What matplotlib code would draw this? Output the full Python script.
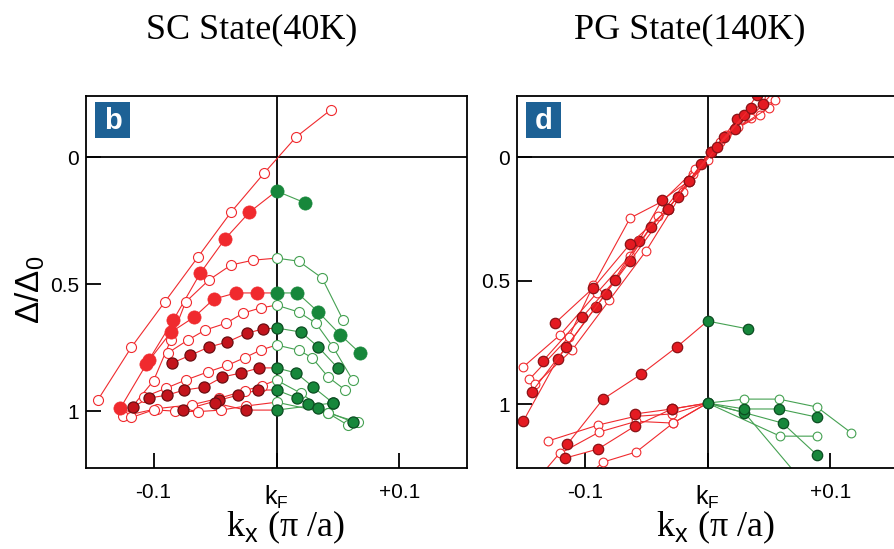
import numpy as np
import matplotlib
matplotlib.use('Agg')
import matplotlib.pyplot as plt
from matplotlib.patches import Rectangle

plt.rcParams['font.family'] = ['Liberation Sans', 'DejaVu Sans']
plt.rcParams['mathtext.fontset'] = 'custom'
plt.rcParams['mathtext.rm'] = 'Liberation Sans'

# ---- SC state (40K), panel b : k_x offset from kF, gap ratio ----
sc_a_x = [-0.1455, -0.118, -0.091, -0.064, -0.037, -0.010, 0.016, 0.044]
sc_a_y = [0.957, 0.748, 0.571, 0.394, 0.217, 0.063, -0.079, -0.185]
sc_b_x = [-0.127, -0.104, -0.084, -0.062, -0.042, -0.022, 0.0, 0.023]
sc_b_y = [0.988, 0.800, 0.642, 0.457, 0.323, 0.217, 0.134, 0.180]
sc_c_x = [-0.123, -0.100, -0.086, -0.074, -0.055, -0.037, -0.019, 0.0, 0.018, 0.037, 0.054]
sc_c_y = [1.016, 0.880, 0.720, 0.571, 0.484, 0.425, 0.406, 0.398, 0.410, 0.476, 0.640]
sc_d_x = [-0.106, -0.086, -0.067, -0.051, -0.033, -0.016, 0.0, 0.017, 0.034, 0.052, 0.068]
sc_d_y = [0.815, 0.690, 0.630, 0.559, 0.535, 0.535, 0.535, 0.535, 0.610, 0.700, 0.772]
sc_e_x = [-0.088, -0.072, -0.058, -0.041, -0.027, -0.013, 0.0, 0.018, 0.032, 0.046, 0.062]
sc_e_y = [0.770, 0.720, 0.681, 0.654, 0.614, 0.594, 0.583, 0.610, 0.654, 0.748, 0.878]
sc_f_x = [-0.085, -0.070, -0.055, -0.040, -0.024, -0.011, 0.0, 0.020, 0.034, 0.050]
sc_f_y = [0.811, 0.780, 0.748, 0.728, 0.693, 0.677, 0.673, 0.689, 0.748, 0.831]
sc_g_x = [-0.108, -0.090, -0.074, -0.056, -0.040, -0.026, -0.013, 0.0, 0.018, 0.029, 0.042, 0.056]
sc_g_y = [0.945, 0.910, 0.878, 0.846, 0.820, 0.790, 0.760, 0.740, 0.760, 0.790, 0.866, 0.917]
sc_h_x = [-0.117, -0.104, -0.089, -0.075, -0.059, -0.044, -0.029, -0.014, 0.0, 0.016, 0.030, 0.046]
sc_h_y = [0.984, 0.949, 0.937, 0.917, 0.906, 0.866, 0.850, 0.830, 0.830, 0.850, 0.906, 0.968]
sc_i_x = [-0.125, -0.097, -0.069, -0.047, -0.026, -0.012, 0.0, 0.020, 0.042, 0.058]
sc_i_y = [1.020, 0.990, 0.975, 0.950, 0.920, 0.900, 0.878, 0.930, 1.008, 1.055]
sc_j_x = [-0.076, -0.047, -0.031, -0.015, 0.0, 0.017, 0.026, 0.034, 0.062]
sc_j_y = [0.996, 0.957, 0.937, 0.917, 0.917, 0.949, 0.972, 0.988, 1.043]
sc_k_x = [-0.050, -0.025, 0.0, 0.046]
sc_k_y = [0.968, 0.996, 0.996, 0.968]
sc_l_x = [-0.118, -0.100, -0.083, -0.064, -0.045, -0.025, 0.0, 0.042, 0.066]
sc_l_y = [1.025, 0.995, 1.000, 1.002, 0.996, 0.980, 0.965, 1.008, 1.043]

# ---- PG state (140K), panel d ----
pg_1_x = [-0.150, -0.122, -0.091, -0.063, -0.032, -0.005, 0.013, 0.024, 0.045, 0.060]
pg_1_y = [1.070, 0.818, 0.607, 0.421, 0.210, 0.028, -0.081, -0.154, -0.215, -0.300]
pg_2_x = [-0.143, -0.115, -0.083, -0.056, -0.037, -0.015, 0.003, 0.022, 0.040]
pg_2_y = [0.951, 0.769, 0.555, 0.340, 0.174, 0.097, -0.020, -0.113, -0.250]
pg_3_x = [-0.134, -0.102, -0.075, -0.046, -0.024, 0.003, 0.030]
pg_3_y = [0.826, 0.648, 0.498, 0.283, 0.162, -0.020, -0.170]
pg_4_x = [-0.124, -0.093, -0.063, -0.032, -0.015, 0.008, 0.035]
pg_4_y = [0.672, 0.530, 0.352, 0.210, 0.097, -0.040, -0.200]
pg_5_x = [-0.150, -0.120, -0.090, -0.063, -0.040, -0.012, 0.010, 0.035, 0.050]
pg_5_y = [0.850, 0.720, 0.550, 0.400, 0.240, 0.070, -0.060, -0.160, -0.240]
pg_6_x = [-0.145, -0.113, -0.093, -0.063, -0.037, -0.010, 0.015, 0.043, 0.055]
pg_6_y = [0.900, 0.730, 0.520, 0.247, 0.180, 0.050, -0.090, -0.170, -0.230]
pg_7_x = [-0.140, -0.110, -0.080, -0.050, -0.020, 0.0, 0.025, 0.050]
pg_7_y = [0.920, 0.780, 0.580, 0.380, 0.140, 0.010, -0.120, -0.200]
pg_m_x = [-0.137, -0.114, -0.085, -0.054, -0.025, 0.0, 0.033]
pg_m_y = [1.296, 1.162, 0.980, 0.879, 0.769, 0.664, 0.696]
pg_l1_x = [-0.116, -0.089, -0.059, -0.029, 0.0, 0.030, 0.061, 0.089]
pg_l1_y = [1.219, 1.182, 1.089, 1.020, 0.996, 1.035, 1.077, 1.206]
pg_l2_x = [-0.130, -0.089, -0.059, -0.029, 0.0, 0.030, 0.058, 0.089, 0.117]
pg_l2_y = [1.150, 1.085, 1.050, 1.040, 0.996, 0.980, 0.980, 1.012, 1.117]
pg_l3_x = [-0.120, -0.088, -0.058, -0.028, 0.0, 0.059, 0.089]
pg_l3_y = [1.200, 1.113, 1.070, 1.077, 0.996, 1.130, 1.130]
pg_l4_x = [-0.100, -0.085, -0.058, -0.028, 0.0, 0.030, 0.075]
pg_l4_y = [1.300, 1.235, 1.194, 1.077, 0.996, 1.035, 1.300]
pg_l5_x = [-0.059, -0.029, 0.0, 0.030, 0.058, 0.089]
pg_l5_y = [1.040, 1.020, 0.996, 1.020, 1.020, 1.053]

RED = '#f02a2e'
DARK = '#c3141c'
GREEN = '#17873b'
LGREEN = '#45a152'

# (x, y, kind, split at kF into green) ; kinds: big / dark / filled / open
sc_series = [
    (sc_a_x, sc_a_y, 'open', False),
    (sc_c_x, sc_c_y, 'open', True),
    (sc_e_x, sc_e_y, 'open', True),
    (sc_g_x, sc_g_y, 'open', True),
    (sc_i_x, sc_i_y, 'open', True),
    (sc_l_x, sc_l_y, 'open', True),
    (sc_b_x, sc_b_y, 'big', True),
    (sc_d_x, sc_d_y, 'big', True),
    (sc_f_x, sc_f_y, 'dark', True),
    (sc_h_x, sc_h_y, 'dark', True),
    (sc_j_x, sc_j_y, 'dark', True),
    (sc_k_x, sc_k_y, 'dark', True),
]
pg_series = [
    (pg_5_x, pg_5_y, 'open', False),
    (pg_6_x, pg_6_y, 'open', False),
    (pg_7_x, pg_7_y, 'open', False),
    (pg_1_x, pg_1_y, 'filled', False),
    (pg_2_x, pg_2_y, 'filled', False),
    (pg_3_x, pg_3_y, 'filled', False),
    (pg_4_x, pg_4_y, 'filled', False),
    (pg_l2_x, pg_l2_y, 'open', True),
    (pg_l3_x, pg_l3_y, 'open', True),
    (pg_l4_x, pg_l4_y, 'open', True),
    (pg_m_x, pg_m_y, 'filled', True),
    (pg_l1_x, pg_l1_y, 'filled', True),
    (pg_l5_x, pg_l5_y, 'filled', True),
]


def marker_style(kind, green, small=False):
    if kind == 'open':
        return dict(marker='o', ms=6.3 if small else 7.2, mfc='white',
                    mec=LGREEN if green else RED, mew=0.8)
    if kind == 'big':
        return dict(marker='o', ms=9.5, mfc=GREEN if green else RED,
                    mec=GREEN if green else RED, mew=0.5)
    if kind == 'filled':
        return dict(marker='o', ms=7.5, mfc=GREEN if green else '#e41a21',
                    mec='#0c4d22' if green else '#8a1216', mew=0.9)
    return dict(marker='o', ms=8.0, mfc=GREEN if green else DARK,
                mec='#0c4d22' if green else '#6a0f12', mew=0.9)


def draw(ax, x, y, kind, split, small=False):
    x = np.asarray(x)
    y = np.asarray(y)
    if not split:
        ax.plot(x, y, color=RED, lw=0.8, zorder=2, **marker_style(kind, False, small))
        return
    r = x <= 0
    g = x >= 0
    ax.plot(x[r], y[r], color=RED, lw=0.8, zorder=2)
    ax.plot(x[x < 0], y[x < 0], ls='none', zorder=3, **marker_style(kind, False, small))
    ax.plot(x[g], y[g], color=LGREEN, lw=0.8, zorder=2)
    ax.plot(x[g], y[g], ls='none', zorder=3, **marker_style(kind, True, small))


fig = plt.figure(figsize=(8.95, 5.49), dpi=100)
ax_b = fig.add_axes([0.0961, 0.1475, 0.4257, 0.6776])
ax_d = fig.add_axes([0.5777, 0.1475, 0.4257, 0.6776])

for ax, series, ylim, small, tag in [(ax_b, sc_series, (1.224, -0.24), False, 'b'),
                                     (ax_d, pg_series, (1.259, -0.247), True, 'd')]:
    for x, y, kind, split in series:
        draw(ax, x, y, kind, split, small)
    ax.axhline(0, color='black', lw=1.3, zorder=1)
    ax.axvline(0, color='black', lw=1.3, zorder=1)
    ax.set_xlim(-0.155, 0.155)
    ax.set_ylim(*ylim)
    ax.set_xticks([-0.1, 0, 0.1])
    ax.set_xticklabels(['-0.1', 'k$_{\\rm F}$', '+0.1'])
    ax.set_yticks([0, 0.5, 1])
    ax.set_yticklabels(['0', '0.5', '1'])
    ax.tick_params(direction='in', length=11, width=1.3, labelsize=15, colors='black')
    ax.tick_params(axis='x', pad=11)
    ax.tick_params(axis='y', pad=5)
    ax.get_xticklabels()[1].set_fontsize(18)
    for s in ax.spines.values():
        s.set_linewidth(1.3)
    ax.add_patch(Rectangle((0.0236, 0.887), 0.093, 0.097, transform=ax.transAxes,
                           facecolor='#1d6195', edgecolor='none', zorder=5))
    ax.text(0.07, 0.934, tag, transform=ax.transAxes, ha='center', va='center',
            color='white', fontsize=21, fontweight='bold', zorder=6)

serif = ['Liberation Serif', 'DejaVu Serif']
fig.text(252 / 895, 1 - 30 / 549, 'SC State(40K)', ha='center', va='center',
         family=serif, fontsize=26)
fig.text(690 / 895, 1 - 30 / 549, 'PG State(140K)', ha='center', va='center',
         family=serif, fontsize=26)
fig.text(285 / 895, 1 - 527 / 549, 'k$_{\\rm x}$ (π /a)', ha='center', va='center',
         family=serif, fontsize=26)
fig.text(715 / 895, 1 - 527 / 549, 'k$_{\\rm x}$ (π /a)', ha='center', va='center',
         family=serif, fontsize=26)
fig.text(30 / 895, 1 - 290 / 549, 'Δ/Δ$_{\\rm 0}$', ha='center', va='center',
         rotation=90, fontsize=24)

plt.savefig('out.png', dpi=100)
